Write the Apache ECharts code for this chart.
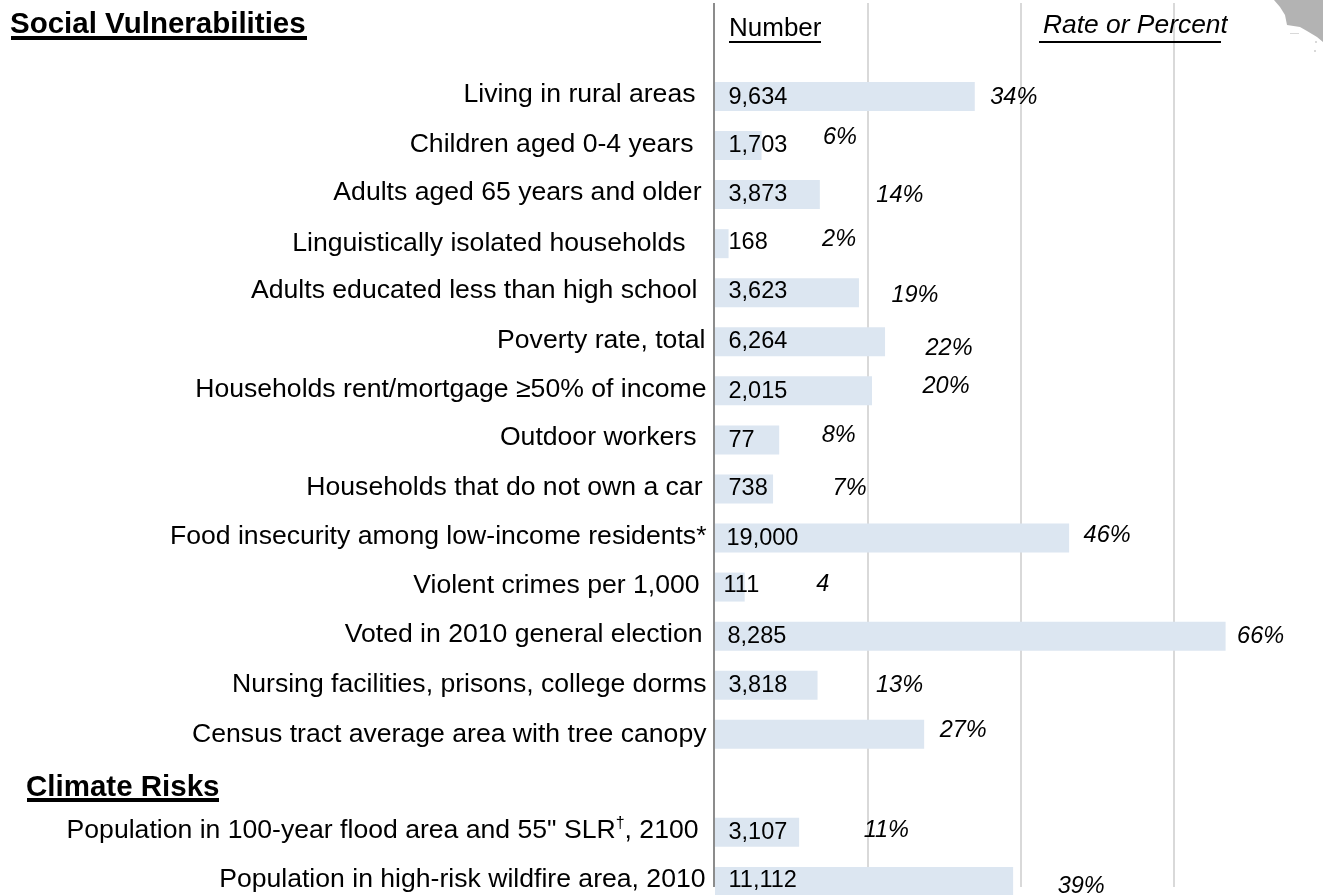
<!DOCTYPE html>
<html>
<head>
<meta charset="utf-8">
<title>Social Vulnerabilities</title>
<script src="https://cdn.jsdelivr.net/npm/echarts@6/dist/echarts.min.js"></script>
<style>
html,body{margin:0;padding:0;background:#fff;overflow:hidden}
#main{width:1323px;height:895px}
</style>
</head>
<body>
<div id="main"></div>
<script>
// rows, top to bottom ('' = the row that holds the Climate Risks heading)
var categories = [
    'Living in rural areas',
    'Children aged 0-4 years',
    'Adults aged 65 years and older',
    'Linguistically isolated households',
    'Adults educated less than high school',
    'Poverty rate, total',
    'Households rent/mortgage ≥50% of income',
    'Outdoor workers',
    'Households that do not own a car',
    'Food insecurity among low-income residents*',
    'Violent crimes per 1,000',
    'Voted in 2010 general election',
    'Nursing facilities, prisons, college dorms',
    'Census tract average area with tree canopy',
    '',
    'Population in 100-year flood area and 55" SLR{sup|†}, 2100',
    'Population in high-risk wildfire area, 2010'
];
var numbers = ['9,634','1,703','3,873','168','3,623','6,264','2,015','77','738','19,000','111','8,285','3,818','','','3,107','11,112'];
var rateLabels = ['34%','6%','14%','2%','19%','22%','20%','8%','7%','46%','4','66%','13%','27%','','11%','39%'];
// bar lengths, in percent
var rates = [34,6.2,13.8,1.9,18.9,22.3,20.6,8.5,7.7,46.3,4,66.7,13.5,27.4,null,11.1,39];

// hand placed text, the original has it a bit off from the bars (dx,dy in px)
var catOffset = [[-18,-2],[-20,-1],[-12,-2],[-28,0],[-16,-2],[-8,-1],[-7,-1],[-17,-2],[-11,-1],[-7,-1],[-14,-1],[-11,-1],[-7,-1],[-7,0],[0,0],[-15,-2],[-8,-2]];
var numOffset = [[14,1],[14,0],[14,0],[14,-1],[14,-1],[14,0],[14,1],[14,1],[14,0],[12,0],[9,-2],[13,0],[14,0],[0,0],[0,0],[14,0],[14,-1]];
var rateOffset = [[15,1],[61,-8],[56,1],[93,-4],[32,3],[40,7],[50,-4],[42,-4],[59,0],[14,-3],[71,-2.5],[11,0],[58,0],[15,-4],[0,0],[64,-1.5],[44,5]];

var FONT = '"Liberation Sans", Arial, sans-serif';
var headerRows = ['', ''];   // empty bands above the first bar, so the axis runs up to the top

function pad(arr) { return headerRows.map(function(){ return null; }).concat(arr); }
function pts(xs) {
    return xs.map(function(x, i){ return [x, i + headerRows.length]; });
}

var chart = echarts.init(document.getElementById('main'), null, {renderer:'canvas'});
chart.setOption({
    animation: false,
    backgroundColor: '#fff',
    grid: {left: 714, top: -26.15, width: 613.6, height: 932.1, outerBoundsMode: 'none'},
    xAxis: {
        type: 'value', min: 0, max: 80, interval: 20,
        axisLine: {show: false}, axisTick: {show: false}, axisLabel: {show: false},
        splitLine: {show: true, lineStyle: {color: '#d9d9d9', width: 2}}
    },
    yAxis: {
        type: 'category', inverse: true, z: 3,
        data: headerRows.concat(categories),
        axisLine: {show: true, lineStyle: {color: '#8c8c8c', width: 2}},
        axisTick: {show: false}, axisLabel: {show: false}, splitLine: {show: false}
    },
    series: [
        {
            type: 'bar', barWidth: 29, silent: true, z: 2,
            itemStyle: {color: '#dce6f1'},
            data: pad(rates)
        },
        {
            // row names
            type: 'scatter', symbolSize: 1, silent: true, itemStyle: {opacity: 0}, z: 4,
            label: {show: true, color: '#000', opacity: 1},
            data: pts(categories.map(function(){ return 0; })).map(function(p, i){
                return {value: p, label: {
                    show: true, position: 'left', distance: 0, offset: catOffset[i],
                    formatter: categories[i], color: '#000', fontSize: 26.6, fontFamily: FONT,
                    rich: {sup: {fontSize: 16, fontFamily: FONT, color: '#000', verticalAlign: 'top', lineHeight: 30}}
                }};
            })
        },
        {
            // counts
            type: 'scatter', symbolSize: 1, silent: true, itemStyle: {opacity: 0}, z: 4,
            label: {show: true, color: '#000', opacity: 1},
            data: pts(numbers.map(function(){ return 0; })).map(function(p, i){
                return {value: p, label: {
                    show: true, position: 'right', distance: 0, offset: numOffset[i],
                    formatter: numbers[i], color: '#000', fontSize: 23.5, fontFamily: FONT
                }};
            })
        },
        {
            // rates, sitting beyond the end of each bar
            type: 'scatter', symbolSize: 1, silent: true, itemStyle: {opacity: 0}, z: 4,
            label: {show: true, color: '#000', opacity: 1},
            data: pts(rates.map(function(r){ return r === null ? 0 : r; })).map(function(p, i){
                return {value: p, label: {
                    show: true, position: 'right', distance: 0, offset: rateOffset[i],
                    formatter: rateLabels[i], color: '#000', fontSize: 23.5, fontStyle: 'italic', fontFamily: FONT
                }};
            })
        }
    ],
    graphic: [
        // the axis and grid lines stop short of the page edges, the last bar does not
        {type: 'rect', z: 50, shape: {x: 700, y: 0, width: 500, height: 3}, style: {fill: '#fff'}},
        {type: 'rect', z: 50, shape: {x: 711, y: 887, width: 4, height: 8}, style: {fill: '#fff'}},
        {type: 'rect', z: 1, shape: {x: 1014, y: 887, width: 309, height: 8}, style: {fill: '#fff'}},
        {type: 'text', z: 60, x: 10, y: 10, style: {text: 'Social Vulnerabilities', font: 'bold 29.5px ' + FONT, fill: '#000'}},
        {type: 'rect', z: 60, shape: {x: 11, y: 36, width: 296, height: 4}, style: {fill: '#000'}},
        {type: 'text', z: 60, x: 26, y: 773, style: {text: 'Climate Risks', font: 'bold 29.5px ' + FONT, fill: '#000'}},
        {type: 'rect', z: 60, shape: {x: 27, y: 798, width: 192, height: 4}, style: {fill: '#000'}},
        {type: 'text', z: 60, x: 729, y: 16, style: {text: 'Number', font: '26px ' + FONT, fill: '#000'}},
        {type: 'rect', z: 60, shape: {x: 729, y: 41, width: 92, height: 2}, style: {fill: '#000'}},
        {type: 'text', z: 60, x: 1043, y: 13, style: {text: 'Rate or Percent', font: 'italic 26.4px ' + FONT, fill: '#000'}},
        {type: 'rect', z: 61, shape: {x: 1228, y: 10, width: 14, height: 28}, style: {fill: '#fff'}},
        {type: 'rect', z: 60, shape: {x: 1039, y: 41, width: 182, height: 2}, style: {fill: '#000'}},
        // corner of the state outline
        {type: 'polygon', z: 40, shape: {points: [[1274,0],[1280,7],[1285,15],[1287,25],[1300,27],[1307,31],[1317,37],[1323,42],[1323,0]]}, style: {fill: '#b3b3b3'}},
        {type: 'rect', z: 40, shape: {x: 1290, y: 33, width: 9, height: 1}, style: {fill: '#d9d9d9'}},
        {type: 'rect', z: 40, shape: {x: 1315, y: 41, width: 2, height: 2}, style: {fill: '#d9d9d9'}},
        {type: 'rect', z: 40, shape: {x: 1314, y: 50, width: 2, height: 2}, style: {fill: '#d9d9d9'}}
    ]
});
</script>
</body>
</html>
